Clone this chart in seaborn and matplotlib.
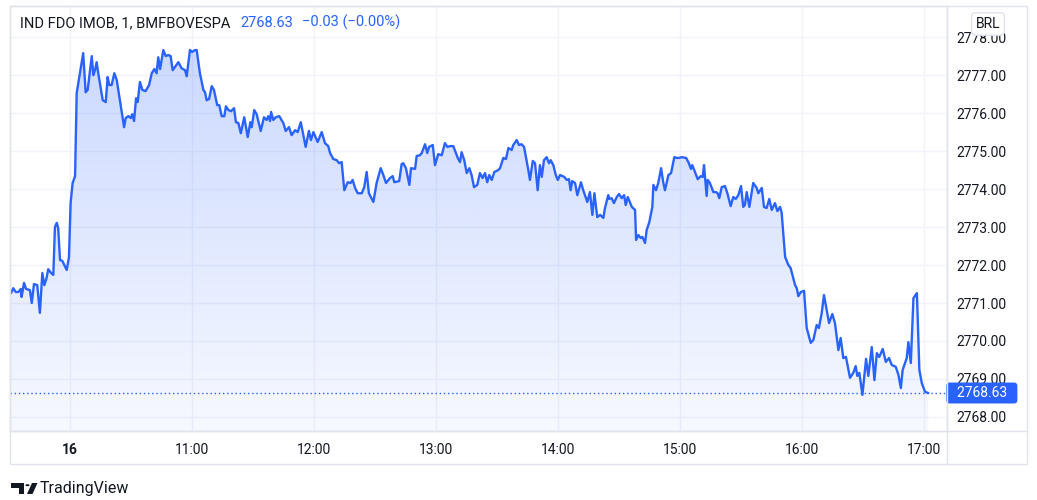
import numpy as np
import pandas as pd
import matplotlib.pyplot as plt
import matplotlib.transforms as mtransforms
from matplotlib.lines import Line2D
from matplotlib.patches import Rectangle, Circle, Polygon
import seaborn as sns

# minutes from 10:00 (session day 16) and price
minutes = [-29.0, -27.9, -26.7, -25.4, -24.2, -23.8, -22.6, -21.6, -19.7, -18.8,
           -17.7, -16.1, -14.8, -13.6, -12.6, -11.5, -10.7, -9.3, -8.2, -7.4,
           -6.5, -5.8, -4.9, -3.8, -1.6, -0.5, 0.3, 1.3, 2.5, 3.3,
           4.1, 6.5, 7.7, 8.7, 10.7, 11.5, 12.3, 13.1, 13.9, 16.1,
           17.6, 18.5, 19.3, 20.5, 21.8, 23.0, 26.6, 27.4, 28.7, 29.9,
           30.6, 31.5, 32.5, 33.3, 34.4, 35.6, 37.2, 38.9, 40.2, 41.5,
           42.6, 43.4, 44.3, 45.9, 47.1, 48.3, 49.5, 50.5, 53.3, 54.9,
           56.6, 57.4, 59.0, 60.1, 61.5, 62.3, 63.9, 65.6, 66.4, 67.2,
           68.4, 69.7, 70.8, 72.4, 73.4, 74.6, 75.9, 76.7, 77.9, 79.2,
           80.7, 81.6, 82.8, 84.0, 85.7, 87.4, 88.7, 89.4, 90.6, 91.8,
           93.8, 95.4, 96.7, 97.5, 98.4, 98.9, 100.0, 101.2, 102.9, 104.9,
           106.1, 107.7, 109.0, 110.7, 112.0, 113.5, 115.9, 117.5, 118.5, 119.7,
           121.8, 123.8, 125.4, 127.0, 127.9, 129.5, 131.2, 132.3, 133.6, 134.9,
           136.6, 138.0, 139.0, 140.2, 141.5, 143.5, 144.7, 145.9, 147.0, 149.2,
           150.8, 152.8, 154.1, 155.4, 157.4, 158.7, 159.5, 161.9, 163.1, 163.9,
           165.2, 166.9, 167.7, 169.7, 170.5, 172.1, 173.0, 174.6, 175.7, 176.6,
           178.4, 179.5, 181.1, 182.8, 184.4, 185.6, 186.9, 188.5, 190.7, 191.8,
           192.6, 193.9, 195.1, 196.4, 197.5, 198.7, 200.3, 201.6, 202.9, 204.1,
           205.2, 206.2, 207.4, 208.7, 210.6, 211.5, 213.1, 214.4, 215.6, 217.2,
           218.0, 219.7, 220.8, 222.1, 223.3, 225.4, 226.2, 227.6, 228.7, 230.0,
           231.1, 232.0, 233.1, 234.4, 235.6, 236.4, 237.7, 238.9, 239.9, 241.0,
           243.1, 244.3, 245.4, 246.2, 247.0, 248.4, 249.5, 251.3, 252.4, 254.4,
           255.7, 256.9, 257.9, 259.3, 260.7, 262.3, 263.1, 264.7, 265.2, 266.4,
           267.5, 268.9, 270.0, 271.3, 272.5, 273.3, 274.3, 276.3, 277.9, 278.4,
           279.5, 280.7, 281.5, 282.8, 283.6, 284.9, 286.4, 286.9, 288.2, 289.3,
           290.7, 291.8, 292.6, 294.3, 295.6, 297.2, 298.4, 299.7, 300.8, 303.0,
           304.1, 305.4, 306.0, 307.0, 308.7, 310.2, 311.2, 311.8, 313.1, 313.6,
           314.7, 316.4, 317.7, 318.5, 319.3, 320.5, 322.1, 323.3, 324.9, 326.2,
           327.4, 328.7, 330.0, 331.1, 331.9, 332.8, 334.1, 336.0, 337.7, 338.5,
           340.2, 341.3, 342.6, 343.9, 345.1, 346.7, 347.9, 349.2, 350.0, 351.7,
           353.3, 354.4, 356.6, 357.4, 358.2, 359.4, 361.0, 362.3, 364.3, 365.6,
           367.2, 368.3, 369.7, 370.8, 372.1, 373.3, 374.9, 376.2, 377.9, 379.0,
           380.3, 381.6, 383.6, 385.2, 386.4, 387.2, 388.2, 389.7, 391.5, 392.6,
           394.3, 395.6, 396.8, 398.0, 399.7, 401.2, 402.8, 404.1, 406.1, 407.4,
           408.6, 409.5, 411.5, 412.3, 413.5, 414.8, 416.5, 417.7, 418.9, 420.5,
           422.1]
prices = [2771.26, 2771.39, 2771.29, 2771.29, 2771.37, 2771.16, 2771.53, 2771.37, 2771.34, 2771.00,
          2771.50, 2771.47, 2770.74, 2771.79, 2771.47, 2771.66, 2771.89, 2771.79, 2771.74, 2773.00,
          2773.11, 2772.97, 2772.13, 2772.11, 2771.87, 2772.21, 2773.63, 2774.16, 2774.34, 2776.53,
          2776.79, 2777.58, 2776.55, 2776.61, 2777.50, 2777.00, 2777.13, 2777.34, 2777.05, 2776.34,
          2776.29, 2776.95, 2776.74, 2776.74, 2777.05, 2776.87, 2775.63, 2775.87, 2775.92, 2775.87,
          2775.97, 2775.79, 2776.39, 2776.29, 2776.82, 2776.61, 2776.58, 2776.74, 2777.05, 2777.16,
          2777.05, 2777.47, 2777.16, 2777.66, 2777.50, 2777.53, 2777.50, 2777.13, 2777.34, 2777.18,
          2777.13, 2776.97, 2777.66, 2777.61, 2777.66, 2777.66, 2777.05, 2776.61, 2776.55, 2776.34,
          2776.37, 2776.71, 2776.61, 2776.21, 2776.21, 2775.92, 2775.92, 2776.18, 2776.08, 2776.05,
          2776.13, 2775.76, 2775.74, 2775.47, 2775.89, 2775.37, 2775.76, 2775.63, 2776.08, 2775.97,
          2775.53, 2775.89, 2775.82, 2775.92, 2775.79, 2776.03, 2775.82, 2775.89, 2775.92, 2775.74,
          2775.53, 2775.63, 2775.42, 2775.55, 2775.50, 2775.76, 2775.11, 2775.53, 2775.29, 2775.50,
          2775.24, 2775.50, 2775.21, 2775.13, 2774.95, 2774.79, 2774.76, 2774.68, 2774.71, 2773.97,
          2774.18, 2774.16, 2774.24, 2774.03, 2773.89, 2773.89, 2774.05, 2774.45, 2773.89, 2773.66,
          2774.16, 2774.55, 2774.37, 2774.16, 2774.29, 2774.34, 2774.18, 2774.21, 2774.66, 2774.68,
          2774.55, 2774.11, 2774.55, 2774.53, 2774.87, 2774.89, 2774.95, 2775.18, 2774.95, 2775.11,
          2775.16, 2774.63, 2774.92, 2774.89, 2775.21, 2775.11, 2775.13, 2775.13, 2774.82, 2774.71,
          2774.97, 2774.76, 2774.42, 2774.55, 2774.37, 2774.05, 2774.11, 2774.42, 2774.29, 2774.42,
          2774.18, 2774.37, 2774.24, 2774.45, 2774.50, 2774.55, 2774.82, 2774.79, 2775.08, 2775.03,
          2775.16, 2775.29, 2775.16, 2775.18, 2775.11, 2774.50, 2774.24, 2774.74, 2774.68, 2773.97,
          2774.63, 2774.32, 2774.76, 2774.84, 2774.68, 2774.76, 2774.63, 2774.37, 2774.24, 2774.37,
          2774.32, 2774.24, 2774.26, 2773.97, 2774.21, 2774.16, 2773.84, 2774.18, 2773.97, 2773.66,
          2773.92, 2773.32, 2773.89, 2773.26, 2773.32, 2773.24, 2773.50, 2773.84, 2773.74, 2773.76,
          2773.63, 2773.79, 2773.87, 2773.76, 2773.84, 2773.58, 2773.79, 2773.53, 2773.45, 2772.66,
          2772.79, 2772.71, 2772.74, 2772.58, 2772.92, 2773.13, 2773.53, 2774.11, 2773.97, 2774.16,
          2774.55, 2774.16, 2773.97, 2774.37, 2774.42, 2774.84, 2774.82, 2774.82, 2774.84, 2774.82,
          2774.71, 2774.53, 2774.63, 2774.50, 2774.26, 2774.34, 2774.32, 2774.63, 2773.82, 2774.24,
          2774.16, 2773.92, 2773.92, 2773.89, 2773.76, 2774.05, 2774.08, 2773.89, 2773.55, 2773.79,
          2773.74, 2773.84, 2774.08, 2773.53, 2773.58, 2773.92, 2773.53, 2774.16, 2774.03, 2773.89,
          2774.03, 2773.53, 2773.50, 2773.74, 2773.45, 2773.63, 2773.42, 2773.53, 2773.37, 2772.21,
          2772.00, 2771.92, 2771.47, 2771.39, 2771.18, 2771.29, 2771.32, 2770.34, 2769.95, 2770.03,
          2770.42, 2770.34, 2770.74, 2771.21, 2770.82, 2770.47, 2770.71, 2770.47, 2769.76, 2770.08,
          2769.55, 2769.58, 2769.03, 2769.16, 2769.34, 2769.08, 2769.16, 2768.58, 2769.53, 2769.08,
          2769.84, 2768.97, 2769.68, 2769.58, 2769.79, 2769.45, 2769.55, 2769.37, 2769.32, 2769.11,
          2768.76, 2769.24, 2769.55, 2769.97, 2769.42, 2771.13, 2771.26, 2769.24, 2768.89, 2768.66,
          2768.63]

hour_ticks = [0, 60, 120, 180, 240, 300, 360, 420]
hour_labels = ["16", "11:00", "12:00", "13:00", "14:00", "15:00", "16:00", "17:00"]
price_ticks = [2768, 2769, 2770, 2771, 2772, 2773, 2774, 2775, 2776, 2777, 2778]
last_price = 2768.63
change = "\u22120.03"
change_pct = "(\u22120.00%)"
title = "IND FDO IMOB, 1, BMFBOVESPA"

blue = "#2962ff"
ink = "#131722"
grid_c = "#f0f3fa"
border_c = "#e0e3eb"

sns.set_style("white")
plt.rcParams["font.family"] = ["Roboto", "DejaVu Sans"]

W, H = 1037, 500
fig = plt.figure(figsize=(W / 100, H / 100), dpi=100)


def fx(px):
    return px / W


def fy(py):
    return 1 - py / H


ax = fig.add_axes([fx(10), fy(431), fx(947) - fx(10), fy(6) - fy(431)])
xmin, xmax = -29.5, 431.3
ymin, ymax = 2767.63, 2778.82

df = pd.DataFrame({"minute": minutes, "price": prices})
sns.lineplot(data=df, x="minute", y="price", color=blue, linewidth=1.7,
             estimator=None, ax=ax, zorder=4)

# gradient area under the line
poly = ax.fill_between(df["minute"], df["price"], ymin, facecolor="none", edgecolor="none")
alphas = np.linspace(0.24, 0.04, 256)
rgba = np.zeros((256, 1, 4))
rgba[:, 0, 0] = 41 / 255
rgba[:, 0, 1] = 98 / 255
rgba[:, 0, 2] = 1.0
rgba[:, 0, 3] = alphas
img = ax.imshow(rgba, extent=[xmin, xmax, ymin, df["price"].max()], aspect="auto",
                origin="upper", zorder=2)
img.set_clip_path(poly.get_paths()[0], transform=ax.transData)

ax.axhline(last_price, color=blue, lw=1, ls=(0, (1, 2)), zorder=3)

ax.set_xlim(xmin, xmax)
ax.set_ylim(ymin, ymax)
ax.set_xticks(hour_ticks)
ax.set_xticklabels(hour_labels)
ax.set_yticks(price_ticks)
ax.set_yticklabels([f"{v:.2f}" for v in price_ticks])
ax.xaxis.get_ticklabels()[0].set_fontweight("bold")
ax.yaxis.tick_right()
ax.set_xlabel("")
ax.set_ylabel("")
ax.grid(True, color=grid_c, lw=1)
ax.set_axisbelow(True)
ax.tick_params(axis="x", length=0, pad=9, labelsize=10, labelcolor=ink)
ax.tick_params(axis="y", length=0, pad=7, labelsize=10, labelcolor=ink)
for s in ax.spines.values():
    s.set_color(border_c)
    s.set_linewidth(1)

# outer frame and separators
fig.add_artist(Rectangle((fx(10), fy(464)), fx(1027) - fx(10), fy(6) - fy(464),
                         transform=fig.transFigure, fill=False, ec=border_c, lw=1))
fig.add_artist(Line2D([fx(947), fx(947)], [fy(464), fy(6)], transform=fig.transFigure,
                      color=border_c, lw=1))
fig.add_artist(Line2D([fx(10), fx(1027)], [fy(431), fy(431)], transform=fig.transFigure,
                      color=border_c, lw=1))

# last price label on the price axis
blend = mtransforms.blended_transform_factory(ax.transAxes, ax.transData)
ax.annotate("  " + f"{last_price:.2f}" + "  ", xy=(1, last_price), xycoords=blend,
            xytext=(2, 0), textcoords="offset points", ha="left", va="center",
            color="white", fontsize=10, annotation_clip=False, zorder=10,
            bbox=dict(boxstyle="round,pad=0.25,rounding_size=0.25", fc=blue, ec="none"))

# currency badge
fig.text(fx(988), fy(24), "BRL", ha="center", va="center", fontsize=10, color=ink, zorder=10,
         bbox=dict(boxstyle="round,pad=0.3,rounding_size=0.3", fc="white", ec=border_c, lw=1))

# header
t1 = fig.text(fx(20), fy(23), title, ha="left", va="center", fontsize=10.5, color=ink)
t2 = ax.annotate(f"{last_price:.2f}", xy=(1, 0), xycoords=t1, xytext=(7, 0),
                 textcoords="offset points", ha="left", va="bottom", color=blue,
                 fontsize=10.5, annotation_clip=False)
ax.annotate(change + " " + change_pct, xy=(1, 0), xycoords=t2, xytext=(6.5, 0),
            textcoords="offset points", ha="left", va="bottom", color=blue,
            fontsize=10.5, annotation_clip=False)

# TradingView mark
fig.add_artist(Polygon([(fx(11), fy(483)), (fx(24), fy(483)), (fx(24), fy(494)),
                        (fx(19), fy(494)), (fx(19), fy(487.5)), (fx(11), fy(487.5))],
                       closed=True, transform=fig.transFigure, fc=ink, ec="none"))
fig.add_artist(Circle((fx(27.5), fy(485.2)), 2.1 / W, transform=fig.transFigure,
                      fc=ink, ec="none"))
fig.add_artist(Polygon([(fx(27), fy(494)), (fx(32.5), fy(494)), (fx(37.5), fy(483)),
                        (fx(32), fy(483))],
                       closed=True, transform=fig.transFigure, fc=ink, ec="none"))
fig.text(fx(40), fy(488), "TradingView", ha="left", va="center", fontsize=11.5, color=ink)

fig.savefig("out.png", dpi=100)
